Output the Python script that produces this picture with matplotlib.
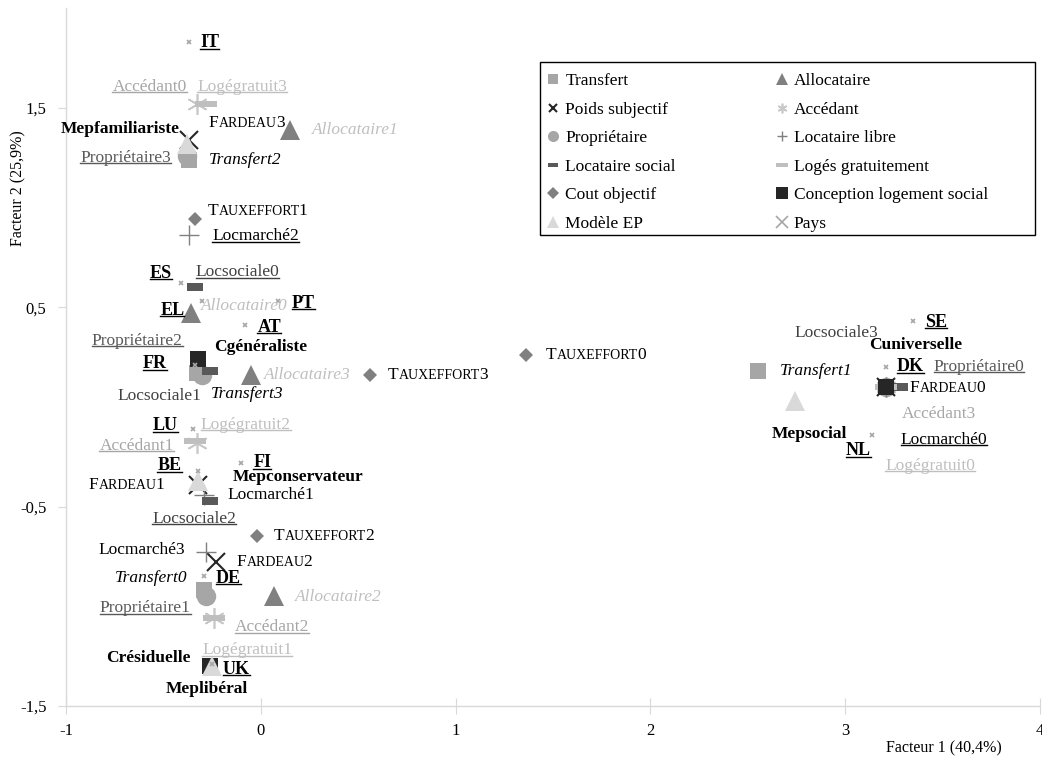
import matplotlib
matplotlib.use("Agg")
import matplotlib.pyplot as plt
from matplotlib.lines import Line2D
from matplotlib.patches import Rectangle
from matplotlib.offsetbox import TextArea, HPacker, AnnotationBbox

plt.rcParams['font.family'] = ['Liberation Serif', 'DejaVu Serif']

# ---------------- data ----------------
transfert_labels = ["Transfert0", "Transfert1", "Transfert2", "Transfert3"]
transfert_x = [-0.29, 2.55, -0.37, -0.33]
transfert_y = [-0.92, 0.18, 1.24, 0.17]

allocataire_labels = ["Allocataire0", "Allocataire1", "Allocataire2", "Allocataire3"]
allocataire_x = [-0.36, 0.15, 0.07, -0.05]
allocataire_y = [0.47, 1.39, -0.95, 0.16]

poids_labels = ["FARDEAU0", "FARDEAU1", "FARDEAU2", "FARDEAU3"]
poids_x = [3.21, -0.32, -0.23, -0.37]
poids_y = [0.10, -0.39, -0.78, 1.34]

accedant_labels = ["Accédant0", "Accédant1", "Accédant2", "Accédant3"]
accedant_x = [-0.33, -0.33, -0.24, 3.21]
accedant_y = [1.52, -0.18, -1.06, 0.10]

proprietaire_labels = ["Propriétaire0", "Propriétaire1", "Propriétaire2", "Propriétaire3"]
proprietaire_x = [3.21, -0.28, -0.30, -0.38]
proprietaire_y = [0.10, -0.95, 0.16, 1.26]

locmarche_labels = ["Locmarché0", "Locmarché1", "Locmarché2", "Locmarché3"]
locmarche_x = [3.21, -0.29, -0.37, -0.28]
locmarche_y = [0.10, -0.44, 0.86, -0.73]

locsociale_labels = ["Locsociale0", "Locsociale1", "Locsociale2", "Locsociale3"]
locsociale_x = [-0.34, -0.26, -0.26, 3.28]
locsociale_y = [0.60, 0.18, -0.47, 0.10]

logegratuit_labels = ["Logégratuit0", "Logégratuit1", "Logégratuit2", "Logégratuit3"]
logegratuit_x = [3.21, -0.24, -0.34, -0.28]
logegratuit_y = [0.10, -1.06, -0.17, 1.52]

tauxeffort_labels = ["TAUXEFFORT0", "TAUXEFFORT1", "TAUXEFFORT2", "TAUXEFFORT3"]
tauxeffort_x = [1.36, -0.34, -0.02, 0.56]
tauxeffort_y = [0.26, 0.94, -0.65, 0.16]

conception_labels = ["Cgénéraliste", "Cuniverselle", "Crésiduelle"]
conception_x = [-0.32, 3.21, -0.26]
conception_y = [0.24, 0.10, -1.30]

modele_labels = ["Mepfamiliariste", "Mepsocial", "Mepconservateur", "Meplibéral"]
modele_x = [-0.38, 2.74, -0.32, -0.25]
modele_y = [1.32, 0.03, -0.37, -1.30]

pays_labels = ["IT", "ES", "EL", "PT", "AT", "FR", "LU", "FI", "BE", "DE", "UK", "SE", "DK", "NL"]
pays_x = [-0.37, -0.41, -0.30, 0.09, -0.08, -0.34, -0.35, -0.10, -0.32, -0.29, -0.25, 3.35, 3.21, 3.14]
pays_y = [1.83, 0.62, 0.53, 0.53, 0.41, 0.21, -0.11, -0.28, -0.32, -0.85, -1.29, 0.43, 0.20, -0.14]

x_ticks = [-1, 0, 1, 2, 3, 4]
y_ticks = [-1.5, -0.5, 0.5, 1.5]
y_ticklabels = ["-1,5", "-0,5", "0,5", "1,5"]

# ---------------- styles ----------------
rect_marker = [(-1, -0.45), (1, -0.45), (1, 0.45), (-1, 0.45), (-1, -0.45)]
dash_marker = [(-1, -0.27), (1, -0.27), (1, 0.27), (-1, 0.27), (-1, -0.27)]

series = [
    dict(name="Transfert", labels=transfert_labels, x=transfert_x, y=transfert_y,
         marker='s', color='#A6A6A6', ms=11.5, mew=0, lms=7,
         tcolor='black', tstyle='italic', tweight='normal', tsize=12.5, caps=False,
         under=[0, 0, 0, 0],
         off=[(-53, -12), (59, 0), (56, 0), (51, 21)]),
    dict(name="Allocataire", labels=allocataire_labels, x=allocataire_x, y=allocataire_y,
         marker='^', color='#808080', ms=15, mew=0, lms=8,
         tcolor='#BFBFBF', tstyle='italic', tweight='normal', tsize=12.5, caps=False,
         under=[0, 0, 0, 0],
         off=[(54, -7), (65, 0), (64, 1), (56, 0)]),
    dict(name="Poids subjectif", labels=poids_labels, x=poids_x, y=poids_y,
         marker='x', color='#262626', ms=13, mew=1.5, lms=6,
         tcolor='black', tstyle='normal', tweight='normal', tsize=12.5, caps=True,
         under=[0, 0, 0, 0],
         off=[(61, 1), (-72, 0), (58, 0), (58, -17)]),
    dict(name="Accédant", labels=accedant_labels, x=accedant_x, y=accedant_y,
         marker=(6, 2, 0), color='#C8C8C8', ms=15, mew=1.2, lms=7,
         tcolor='#A6A6A6', tstyle='normal', tweight='normal', tsize=12.5, caps=False,
         under=[1, 1, 1, 0],
         off=[(-47, -17), (-60, 3), (58, 9), (53, 27)]),
    dict(name="Propriétaire", labels=proprietaire_labels, x=proprietaire_x, y=proprietaire_y,
         marker='o', color='#A6A6A6', ms=14, mew=0, lms=8,
         tcolor='#595959', tstyle='normal', tweight='normal', tsize=12.5, caps=False,
         under=[1, 1, 1, 1],
         off=[(93, -20), (-61, 12), (-65, -34), (-61, 2)]),
    dict(name="Locataire libre", labels=locmarche_labels, x=locmarche_x, y=locmarche_y,
         marker='+', color='#808080', ms=15, mew=1.0, lms=7,
         tcolor='black', tstyle='normal', tweight='normal', tsize=12.5, caps=False,
         under=[1, 0, 1, 0],
         off=[(58, 53), (67, 0), (67, 1), (-64, -2)]),
    dict(name="Locataire social", labels=locsociale_labels, x=locsociale_x, y=locsociale_y,
         marker=rect_marker, color='#595959', ms=11.5, mew=0, lms=7,
         tcolor='#404040', tstyle='normal', tweight='normal', tsize=12.5, caps=False,
         under=[1, 0, 1, 0],
         off=[(43, -15), (-51, 25), (-16, 18), (-63, -54)]),
    dict(name="Logés gratuitement", labels=logegratuit_labels, x=logegratuit_x, y=logegratuit_y,
         marker=dash_marker, color='#BFBFBF', ms=16, mew=0, lms=9,
         tcolor='#BFBFBF', tstyle='normal', tweight='normal', tsize=12.5, caps=False,
         under=[1, 1, 1, 1],
         off=[(44, 79), (33, 32), (51, -16), (36, -17)]),
    dict(name="Cout objectif", labels=tauxeffort_labels, x=tauxeffort_x, y=tauxeffort_y,
         marker='D', color='#808080', ms=7, mew=0, lms=6,
         tcolor='black', tstyle='normal', tweight='normal', tsize=12.5, caps=True,
         under=[0, 0, 0, 0],
         off=[(70, 0), (63, -8), (67, 0), (68, 0)]),
    dict(name="Conception logement social", labels=conception_labels, x=conception_x, y=conception_y,
         marker='s', color='#262626', ms=11, mew=0, lms=8,
         tcolor='black', tstyle='normal', tweight='bold', tsize=12.5, caps=False,
         under=[0, 0, 0],
         off=[(62, -12), (30, -42), (-62, -8)]),
    dict(name="Modèle EP", labels=modele_labels, x=modele_x, y=modele_y,
         marker='^', color='#D9D9D9', ms=15, mew=0, lms=8,
         tcolor='black', tstyle='normal', tweight='bold', tsize=12.5, caps=False,
         under=[0, 0, 0, 0],
         off=[(-67, -15), (15, 33), (100, -4), (-5, 23)]),
    dict(name="Pays", labels=pays_labels, x=pays_x, y=pays_y,
         marker='x', color='#A6A6A6', ms=3.5, mew=1.2, lms=8,
         tcolor='black', tstyle='normal', tweight='bold', tsize=13, caps=False,
         under=[1] * 14,
         off=[(21, 1), (-20, -10), (-30, 9), (25, 2), (24, 2), (-40, -1), (-27, -3),
              (21, 0), (-29, -5), (24, 2), (24, 5), (23, 1), (24, 0), (-14, 16)]),
]

# ---------------- figure ----------------
fig = plt.figure(figsize=(10.42, 7.6), dpi=100)
ax = fig.add_axes([66 / 1042, 1 - 706 / 760, (1040 - 66) / 1042, (706 - 8) / 760])
ax.set_xlim(-1, 4)
ax.set_ylim(-1.5, 2.0)

spine_col = '#D9D9D9'
for s in ['top', 'right']:
    ax.spines[s].set_visible(False)
for s in ['left', 'bottom']:
    ax.spines[s].set_color(spine_col)
    ax.spines[s].set_linewidth(1.0)

ax.set_xticks(x_ticks)
ax.set_xticklabels([str(t) for t in x_ticks])
ax.set_yticks(y_ticks)
ax.set_yticklabels(y_ticklabels)
ax.tick_params(axis='x', direction='inout', length=12, color=spine_col, labelsize=12, pad=6)
ax.tick_params(axis='y', direction='out', length=6, color=spine_col, labelsize=12, pad=8)

texts = []
handles = {}
for z, sr in enumerate(series):
    ax.plot(sr['x'], sr['y'], linestyle='none', marker=sr['marker'], ms=sr['ms'],
            color=sr['color'], mec=sr['color'], mew=sr['mew'], zorder=3 + z * 0.01,
            clip_on=False)
    handles[sr['name']] = Line2D([], [], linestyle='none', marker=sr['marker'], ms=sr['lms'],
                                 color=sr['color'], mec=sr['color'],
                                 mew=sr['mew'] if sr['mew'] > 0 else 0)
    for lab, xv, yv, (dx, dy), u in zip(sr['labels'], sr['x'], sr['y'], sr['off'], sr['under']):
        if sr['caps']:
            # small capitals: first letter full size, the rest smaller
            head = HPacker(children=[
                TextArea(lab[0], textprops=dict(size=sr['tsize'], color=sr['tcolor'])),
                TextArea(lab[1:-1], textprops=dict(size=sr['tsize'] * 0.8, color=sr['tcolor'])),
            ], align='baseline', pad=0, sep=0.5)
            box = HPacker(children=[
                head,
                TextArea(lab[-1], textprops=dict(size=sr['tsize'], color=sr['tcolor'])),
            ], align='baseline', pad=0, sep=-0.8)
            ab = AnnotationBbox(box, (xv, yv), xybox=(dx, -dy), boxcoords='offset pixels',
                                frameon=False, pad=0, zorder=10, annotation_clip=False,
                                box_alignment=(0.5, 0.5))
            ax.add_artist(ab)
        else:
            t = ax.annotate(lab, (xv, yv), xytext=(dx, -dy), textcoords='offset pixels',
                            ha='center', va='center', color=sr['tcolor'], fontsize=sr['tsize'],
                            fontstyle=sr['tstyle'], fontweight=sr['tweight'], zorder=10,
                            annotation_clip=False)
            texts.append((t, u, sr['tcolor']))

# legend (row-major order like the reference), frame drawn separately
fig.add_artist(Rectangle((540 / 1042, 1 - 235 / 760), (1035 - 540) / 1042, 173 / 760,
                         transform=fig.transFigure, facecolor='white', edgecolor='black',
                         lw=1.0, zorder=20))
col1 = ["Transfert", "Poids subjectif", "Propriétaire", "Locataire social", "Cout objectif", "Modèle EP"]
col2 = ["Allocataire", "Accédant", "Locataire libre", "Logés gratuitement",
        "Conception logement social", "Pays"]
order = col1 + col2
leg = fig.legend([handles[n] for n in order], order, loc='upper left',
                 bbox_to_anchor=(541 / 1042, 1 - 68 / 760),
                 ncol=2, fontsize=12.5, frameon=False, handlelength=0.8, handletextpad=0.3,
                 labelspacing=0.71, borderpad=0.3, columnspacing=5.7, borderaxespad=0)
leg.set_zorder(21)

fig.text(944 / 1042, 1 - 748 / 760, "Facteur 1 (40,4%)", ha='center', va='center', fontsize=11.5)
fig.text(18 / 1042, 1 - 188 / 760, "Facteur 2 (25,9%)", ha='center', va='center',
         fontsize=11.5, rotation=90)

# underlines
fig.canvas.draw()
renderer = fig.canvas.get_renderer()
W, H = fig.bbox.width, fig.bbox.height
for t, u, c in texts:
    if not u:
        continue
    bb = t.get_window_extent(renderer)
    yline = bb.y0 + 2.5
    fig.add_artist(Line2D([bb.x0 / W, bb.x1 / W], [yline / H, yline / H],
                          transform=fig.transFigure, color=c, lw=1.0, zorder=11))

fig.savefig("out.png", dpi=100)
